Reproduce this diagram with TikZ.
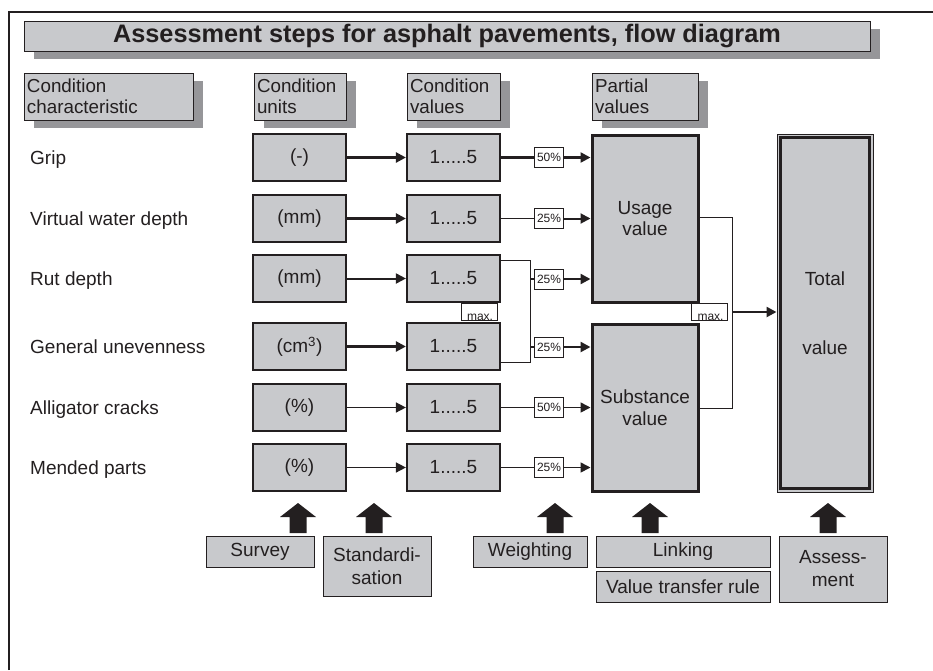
\documentclass[tikz,border=0pt]{standalone}
\usepackage{fontspec}
\setmainfont{Liberation Sans}
\usetikzlibrary{arrows.meta,calc,shadows}
\definecolor{boxgray}{RGB}{200,201,204}
\definecolor{shadowgray}{RGB}{150,150,153}
\definecolor{ink}{RGB}{35,31,32}
\newcommand\blkarrow[1]{%
  \fill[ink] (#1-8.5,533) -- (#1-8.5,517) -- (#1-18,517) -- (#1,503) -- (#1+18,517) -- (#1+8.5,517) -- (#1+8.5,533) -- cycle;}
\tikzset{
  every node/.style={text=ink},
  titlebox/.style={draw=ink, line width=1pt, fill=boxgray, inner sep=0pt,
    minimum width=846pt, minimum height=30pt,
    drop shadow={shadow xshift=10pt, shadow yshift=-8pt, fill=shadowgray, opacity=1},
    font=\fontsize{25.3}{27}\selectfont\bfseries},
  hdrbox/.style 2 args={draw=ink, line width=1pt, fill=boxgray, inner xsep=3pt, inner ysep=0pt,
    minimum width=#1pt, text width=#2pt, minimum height=47pt, align=left,
    drop shadow={shadow xshift=10pt, shadow yshift=-8pt, fill=shadowgray, opacity=1},
    font=\fontsize{18.8}{21.5}\selectfont},
  unitbox/.style={draw=ink, line width=2.2pt, fill=boxgray, minimum width=93pt,
    minimum height=47pt, inner sep=0pt, font=\fontsize{19}{21}\selectfont},
  partbox/.style={draw=ink, line width=3pt, fill=boxgray, minimum width=106pt,
    minimum height=167pt, inner sep=0pt, align=center, font=\fontsize{19}{21.5}\selectfont},
  pct/.style={draw=ink, line width=0.8pt, fill=white, minimum width=29pt, minimum height=20pt,
    inner sep=0pt, font=\fontsize{12}{12}\selectfont},
  maxbox/.style={draw=ink, line width=0.8pt, fill=white, minimum width=36pt, minimum height=17pt, inner sep=0pt},
  maxtxt/.style={anchor=base, inner sep=0pt, font=\fontsize{12}{12}\selectfont},
  botbox/.style={draw=ink, line width=1pt, fill=boxgray, inner sep=0pt, align=center,
    drop shadow={shadow xshift=1pt, shadow yshift=-1pt, fill=ink!70, opacity=1},
    font=\fontsize{19}{23}\selectfont},
  lbl/.style={anchor=base west, inner sep=0pt, font=\fontsize{19}{21}\selectfont},
  arr/.style={draw=ink, -{Triangle[length=10pt,width=10pt]}},
  thinline/.style={draw=ink, line width=0.8pt},
}
\begin{document}
\begin{tikzpicture}[x=1pt,y=-1pt]
\useasboundingbox (0,0) rectangle (933,670);
% frame
\draw[ink, line width=1.5pt] (9,670) -- (9,12) -- (933,12);
% title
\node[titlebox] (title) at (447,36) {Assessment steps for asphalt pavements, flow diagram};
% headers
\node[hdrbox={169}{163}] (h1) at (108.5,96.5) {Condition\\characteristic};
\node[hdrbox={92}{86}] (h2) at (300,96.5) {Condition\\units};
\node[hdrbox={93}{87}] (h3) at (453.5,96.5) {Condition\\values};
\node[hdrbox={106}{100}] (h4) at (645,96.5) {Partial\\values};
% left labels
\node[lbl] (l1) at (30,164.5) {Grip};
\node[lbl] (l2) at (30,225.5) {Virtual water depth};
\node[lbl] (l3) at (30,285.5) {Rut depth};
\node[lbl] (l4) at (30,353.5) {General unevenness};
\node[lbl] (l5) at (30,414.5) {Alligator cracks};
\node[lbl] (l6) at (30,474.5) {Mended parts};
% unit boxes
\node[unitbox] (u1) at (299.5,157.5) {(-)};
\node[unitbox] (u2) at (299.5,218.5) {(mm)};
\node[unitbox] (u3) at (299.5,278.5) {(mm)};
\node[unitbox] (u4) at (299.5,346.5) {(cm\textsuperscript{3})};
\node[unitbox] (u5) at (299.5,407.5) {(\%)};
\node[unitbox] (u6) at (299.5,467.5) {(\%)};
% value boxes
\node[unitbox] (v1) at (453.5,157.5) {1.....5};
\node[unitbox] (v2) at (453.5,218.5) {1.....5};
\node[unitbox] (v3) at (453.5,278.5) {1.....5};
\node[unitbox] (v4) at (453.5,346.5) {1.....5};
\node[unitbox] (v5) at (453.5,407.5) {1.....5};
\node[unitbox] (v6) at (453.5,467.5) {1.....5};
% partial value boxes
\node[partbox] (usage) at (645,218.5) {Usage\\value};
\node[partbox] (subst) at (645,407.5) {Substance\\value};
% total box
\node[draw=ink, line width=1pt, fill=boxgray, minimum width=96pt, minimum height=358pt, inner sep=0pt,
  align=center, font=\fontsize{19}{69}\selectfont] (total) at (825,313) {Total\\value};
\draw[ink, line width=2.5pt] ($(total.north west)+(4,4)$) rectangle ($(total.south east)+(-4,-4)$);
% units -> values
\draw[arr, line width=2.4pt] (u1) -- (v1);
\draw[arr, line width=2.4pt] (u2) -- (v2);
\draw[arr, line width=2pt] (u3) -- (v3);
\draw[arr, line width=2.4pt] (u4) -- (v4);
\draw[arr, line width=1.5pt] (u5) -- (v5);
\draw[arr, line width=1.5pt] (u6) -- (v6);
% weighting labels
\node[pct] (p1) at (549,157.5) {50\%};
\node[pct] (p2) at (549,218.5) {25\%};
\node[pct] (p3) at (549,279) {25\%};
\node[pct] (p4) at (549,347) {25\%};
\node[pct] (p5) at (549,407.5) {50\%};
\node[pct] (p6) at (549,467.5) {25\%};
% bracket rows 3-4
\coordinate (b3a) at (530,260);
\coordinate (b3b) at (530,362);
\coordinate (b3m) at (530,279);
\coordinate (b4m) at (530,347);
\draw[thinline] (b3a -| v3.east) -- (b3a) -- (b3b) -- (b3b -| v4.east);
\node[maxbox] (m1) at (479,311.5) {};
\node[maxtxt] (m1t) at (480,320) {max.};
% values -> labels
\draw[ink, line width=2.4pt] (v1) -- (p1);
\draw[thinline] (v2) -- (p2);
\draw[ink, line width=2.4pt] (b3m) -- (p3);
\draw[ink, line width=2.4pt] (b4m) -- (p4);
\draw[thinline] (v5) -- (p5);
\draw[thinline] (v6) -- (p6);
% labels -> partial values
\draw[arr, line width=2.4pt] (p1) -- (p1 -| usage.west);
\draw[arr, line width=2pt] (p2) -- (p2 -| usage.west);
\draw[arr, line width=2.4pt] (p3) -- (p3 -| usage.west);
\draw[arr, line width=2.4pt] (p4) -- (p4 -| subst.west);
\draw[arr, line width=1.6pt] (p5) -- (p5 -| subst.west);
\draw[arr, line width=1.6pt] (p6) -- (p6 -| subst.west);
% bracket partial values
\coordinate (ba) at (732,217);
\coordinate (bb) at (732,408);
\coordinate (bm) at (732,312);
\draw[thinline] (ba -| usage.east) -- (ba) -- (bb) -- (bb -| subst.east);
\node[maxbox] (m2) at (709.5,311.5) {};
\node[maxtxt] (m2t) at (710.5,320) {max.};
\draw[arr, line width=2.4pt] (bm) -- (bm -| total.west);
% bottom boxes
\node[botbox, minimum width=108pt, minimum height=31pt] (survey) at (260,551.5) {Survey};
\node[botbox, minimum width=108pt, minimum height=60pt] (std) at (377,566) {Standardi-\\sation};
\node[botbox, minimum width=114pt, minimum height=31pt] (weight) at (530,551.5) {Weighting};
\node[botbox, minimum width=174pt, minimum height=31pt] (link) at (683,551.5) {Linking};
\node[botbox, minimum width=174pt, minimum height=31pt] (vtr) at (683,586.5) {Value transfer rule};
\node[botbox, minimum width=108pt, minimum height=66pt] (assess) at (833,569) {Assess-\\ment};
% block arrows
\blkarrow{298}
\blkarrow{374}
\blkarrow{555}
\blkarrow{650}
\blkarrow{828}
\end{tikzpicture}
\end{document}
